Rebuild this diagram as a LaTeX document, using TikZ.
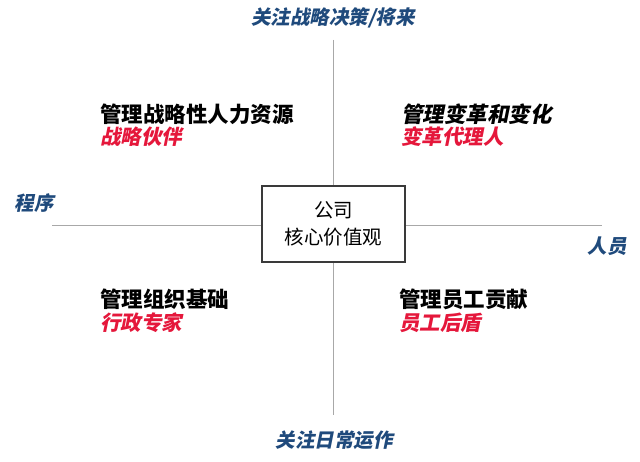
\documentclass[tikz,border=0pt]{standalone}
\usepackage{fontspec}
\newfontfamily\cjk{Noto Sans CJK SC}
\newfontfamily\cjki[FakeSlant=0.2]{Noto Sans CJK SC}
\definecolor{axblue}{HTML}{1F4A7C}
\definecolor{rolered}{HTML}{E5173B}
\definecolor{axisgrey}{HTML}{A8A8A8}
\definecolor{boxgrey}{HTML}{3A3A3A}
\tikzset{
  axislabel/.style={text=axblue, font=\cjki\bfseries\fontsize{19.5}{22}\selectfont, inner sep=0pt},
  tasklabel/.style={text=black, font=\cjk\bfseries\fontsize{21.5}{24}\selectfont, inner sep=0pt, anchor=west},
  taskslant/.style={text=black, font=\cjki\bfseries\fontsize{21.5}{24}\selectfont, inner sep=0pt, anchor=west},
  rolelabel/.style={text=rolered, font=\cjki\bfseries\fontsize{20.5}{24}\selectfont, inner sep=0pt, anchor=west},
  axisline/.style={draw=axisgrey, line width=0.9pt},
  corebox/.style={draw=boxgrey, line width=1.4pt, fill=white, minimum width=143pt, minimum height=76pt, align=center, font=\cjk\fontsize{19.5}{27.5}\selectfont, inner sep=0pt}
}
\begin{document}
\begin{tikzpicture}[x=1pt,y=-1pt]
\useasboundingbox[fill=white] (0,0) rectangle (640,462);
\coordinate (L) at (52,225);
\coordinate (R) at (602,225);
\coordinate (T) at (333,40);
\coordinate (B) at (333,415);
\draw[axisline] (L) -- (R);
\draw[axisline] (T) -- (B);
\node[corebox] (core) at (333.5,224) {公司\\核心价值观};
\node[axislabel] (top) at (333,18) {关注战略决策/将来};
\node[axislabel] (bottom) at (334,440) {关注日常运作};
\node[axislabel] (left) at (34,203) {程序};
\node[axislabel] (right) at (607,246) {人员};
\node[tasklabel] (tl) at (100,114) {管理战略性人力资源};
\node[rolelabel] (tlr) at (100,137) {战略伙伴};
\node[taskslant] (tr) at (401,114) {管理变革和变化};
\node[rolelabel] (trr) at (401,137) {变革代理人};
\node[tasklabel] (bl) at (100,299) {管理组织基础};
\node[rolelabel] (blr) at (100,323) {行政专家};
\node[tasklabel] (br) at (399,299) {管理员工贡献};
\node[rolelabel] (brr) at (399,323) {员工后盾};
\end{tikzpicture}
\end{document}
